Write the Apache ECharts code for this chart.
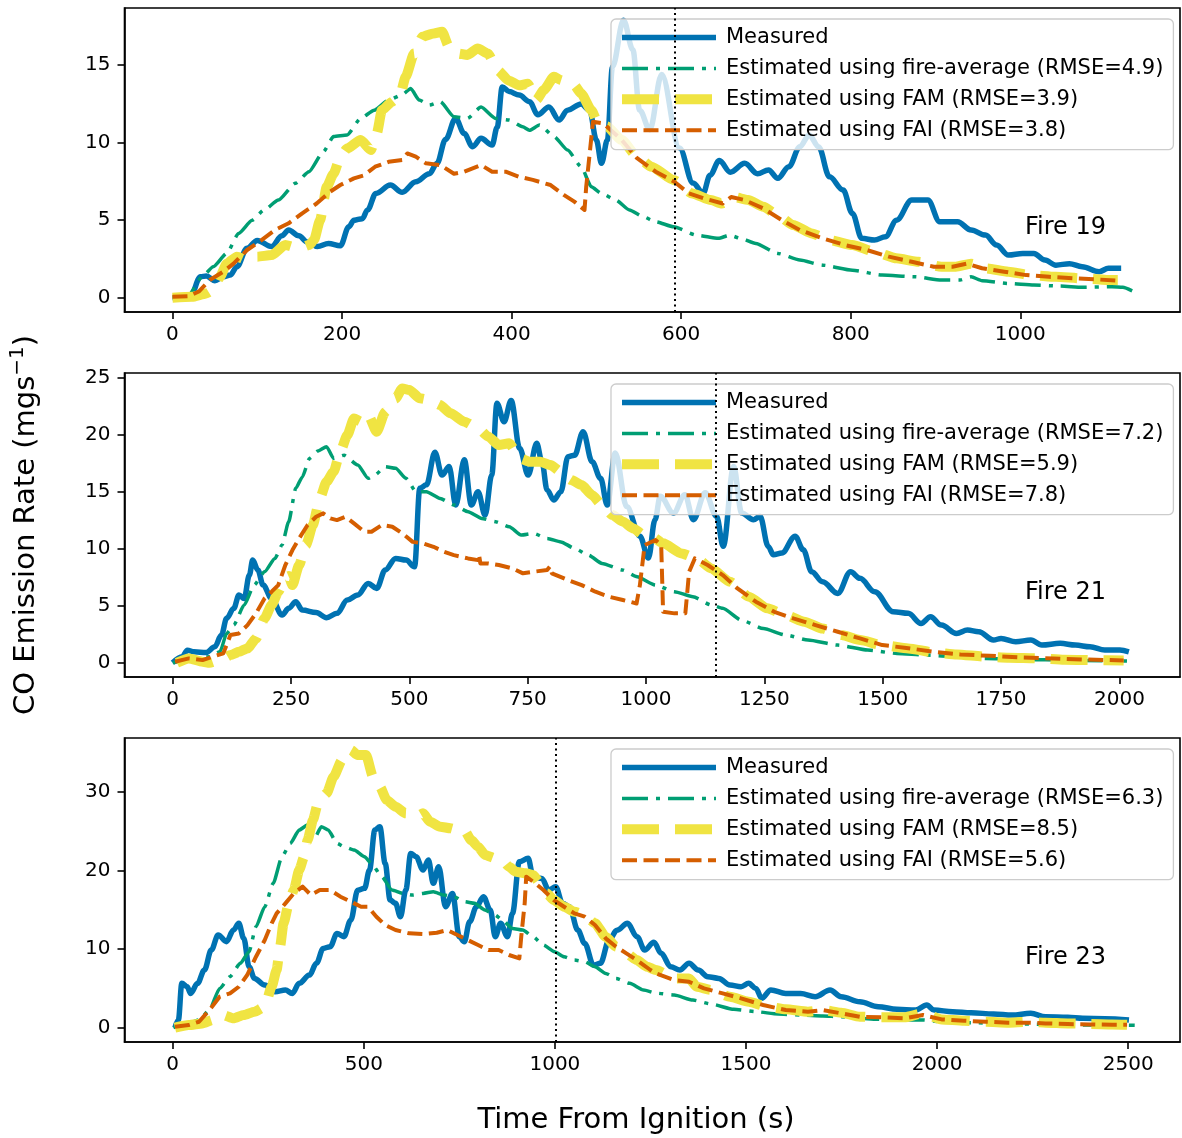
<!DOCTYPE html>
<html>
<head>
<meta charset="utf-8">
<script src="https://cdn.jsdelivr.net/npm/echarts@6/dist/echarts.min.js"></script>
<style>
  html, body { margin: 0; padding: 0; background: #fff; }
  #chart { width: 1182px; height: 1138px; }
</style>
</head>
<body>
<div id="chart"></div>
<script>
// ---------- Fire 19 ----------
const measured19 = [[0,0],[21,0.06],[33,1.35],[40,1.4],[50,1.1],[60,1.35],[68,1.46],[76,2.0],[88,3.2],[100,3.7],[117,3.3],[129,4.0],[137,4.37],[149,4.0],[159,3.6],[171,3.3],[184,3.5],[198,3.35],[208,4.58],[214,5.0],[224,5.1],[230,5.66],[240,6.73],[257,7.27],[271,6.8],[287,7.48],[303,8.0],[312,8.67],[322,10.2],[334,11.57],[344,10.6],[354,9.74],[364,10.28],[377,9.85],[383,11.0],[389,13.6],[397,13.3],[409,13.07],[421,12.65],[431,11.8],[444,12.3],[456,11.46],[466,12.1],[482,12.5],[492,12.1],[500,10.17],[506,8.67],[513,10.17],[519,14.9],[532,17.9],[543,16.0],[551,12.1],[563,10.84],[577,14.4],[598,9.66],[614,7.4],[626,6.75],[634,7.9],[645,8.85],[658,8.1],[675,8.67],[690,8.0],[703,8.24],[714,7.7],[727,8.45],[740,9.74],[751,10.5],[762,9.74],[775,7.8],[791,6.95],[802,5.44],[813,3.83],[828,3.72],[841,3.94],[854,5.0],[872,6.3],[891,6.3],[905,4.9],[926,4.9],[942,4.37],[959,4.04],[972,3.4],[986,2.75],[1003,2.86],[1016,2.86],[1029,2.43],[1042,2.1],[1058,2.2],[1073,2.0],[1093,1.68],[1104,1.9],[1119,1.9]];
const fireAvg19 = [[0,0],[19,0.17],[35,1.35],[48,2.0],[64,2.86],[78,4.15],[94,5.0],[108,5.66],[125,6.3],[145,7.38],[161,8.13],[178,9.42],[190,10.4],[206,10.5],[222,11.57],[238,12.1],[255,12.75],[271,13.1],[281,13.5],[291,12.75],[303,12.43],[316,12.65],[332,11.68],[348,11.57],[364,12.3],[381,11.57],[397,11.46],[413,11.03],[421,10.8],[433,11.14],[450,10.4],[466,9.53],[482,8.45],[494,7.16],[506,6.73],[523,6.3],[539,5.66],[555,5.23],[570,4.9],[591,4.58],[618,4.04],[644,3.83],[657,4.04],[670,3.83],[688,3.5],[714,2.86],[740,2.43],[767,2.1],[802,1.78],[837,1.46],[876,1.35],[907,1.14],[929,1.14],[942,1.35],[955,1.1],[986,0.92],[1016,0.82],[1047,0.75],[1073,0.67],[1108,0.71],[1121,0.67],[1134,0.39]];
const fam19 = [[0,0],[23,0.06],[40,0.28],[48,0.5],[56,1.35],[64,2.2],[76,2.65],[88,2.43],[100,2.65],[117,2.75],[133,3.4],[149,3.18],[161,3.4],[167,3.72],[174,5.0],[182,7.16],[190,8.0],[198,9.1],[206,9.63],[222,10.17],[234,9.53],[241,10.6],[247,12.1],[259,12.65],[269,13.18],[275,14.26],[285,15.76],[295,16.84],[308,17.05],[318,17.16],[326,16.2],[336,15.76],[348,15.66],[360,16.08],[372,15.76],[383,14.69],[397,14.0],[409,13.7],[419,13.8],[429,12.75],[438,13.4],[450,14.26],[458,14.04],[466,13.8],[474,13.7],[482,13.18],[494,12.1],[502,11.25],[512,11.06],[530,10.17],[548,9.1],[565,8.45],[591,7.6],[613,6.73],[635,6.3],[648,6.08],[662,6.5],[679,6.3],[697,5.87],[714,5.33],[732,4.69],[754,4.15],[775,3.72],[802,3.4],[828,2.97],[854,2.54],[880,2.32],[907,2.0],[924,2.0],[942,2.2],[959,1.9],[986,1.68],[1012,1.46],[1042,1.35],[1073,1.25],[1108,1.14],[1115,1.14]];
const fai19 = [[0,0.06],[19,0.1],[31,0.4],[44,1.14],[60,1.68],[72,2.2],[88,3.08],[105,3.72],[121,4.37],[137,4.8],[153,5.44],[170,6.08],[186,6.84],[198,7.27],[214,7.7],[226,7.9],[239,8.45],[255,8.77],[271,8.88],[277,9.31],[287,9.1],[299,8.67],[316,8.56],[332,8.0],[344,8.13],[364,8.56],[377,8.13],[393,8.13],[409,7.8],[425,7.6],[446,7.27],[462,6.62],[474,6.2],[486,5.66],[488,7.16],[496,11.35],[508,11.25],[530,10.17],[548,9.0],[570,8.13],[592,7.48],[609,6.73],[627,6.4],[649,6.08],[659,6.5],[675,6.3],[697,5.76],[719,5.0],[740,4.37],[767,3.83],[793,3.4],[819,3.08],[845,2.65],[872,2.32],[898,2.0],[920,2.0],[937,2.2],[955,1.9],[981,1.68],[1007,1.46],[1034,1.35],[1064,1.25],[1091,1.18],[1115,1.1]];
const rmse19 = ['4.9', '3.9', '3.8'];
const split19 = 593;
const xTicks19 = [0, 200, 400, 600, 800, 1000];
const yTicks19 = [0, 5, 10, 15];

// ---------- Fire 21 ----------
const measured21 = [[0,0],[20,0.53],[31,1.1],[45,0.96],[71,0.9],[89,1.4],[103,2.43],[114,3.9],[129,4.77],[140,5.94],[151,5.64],[162,7.69],[169,9.0],[180,8.13],[191,6.81],[209,5.64],[231,4.18],[245,4.77],[260,5.35],[274,4.62],[303,4.4],[325,3.95],[347,4.33],[369,5.5],[391,5.94],[413,6.96],[431,6.52],[449,8.13],[471,9.15],[493,9.0],[511,8.42],[522,15.3],[536,15.6],[554,18.45],[569,16.46],[584,17.2],[598,13.83],[616,17.8],[631,13.83],[645,15.0],[660,12.95],[674,16.46],[685,22.75],[700,21.14],[715,23.0],[733,18.8],[751,16.46],[769,19.24],[780,17.63],[791,15.15],[805,14.27],[820,15.0],[835,18.07],[849,18.2],[867,20.26],[886,17.63],[904,16.17],[918,13.83],[935,18.4],[959,13.7],[987,11.1],[1005,9.18],[1019,12.55],[1030,14.6],[1058,13.13],[1082,14.74],[1100,12.55],[1125,14.9],[1149,12.84],[1163,10.21],[1185,17.2],[1202,13.13],[1227,12.55],[1241,12.84],[1258,10.2],[1269,9.47],[1287,9.62],[1315,11.1],[1332,9.91],[1350,7.98],[1373,7.1],[1405,6.08],[1432,7.98],[1452,7.4],[1483,6.23],[1522,4.47],[1554,4.33],[1581,3.45],[1601,4.04],[1624,3.3],[1656,2.57],[1679,2.87],[1703,2.72],[1734,1.99],[1750,2.13],[1781,1.84],[1813,1.99],[1836,1.55],[1875,1.7],[1907,1.55],[1938,1.4],[1969,1.11],[2001,1.11],[2020,0.96]];
const fireAvg21 = [[0,0],[34,0.23],[78,0.53],[100,0.96],[114,2.57],[129,3.3],[151,5.06],[172,6.81],[194,7.98],[216,9.15],[231,10.32],[245,12.37],[260,15.3],[274,16.3],[289,17.92],[307,18.57],[325,18.95],[340,17.92],[362,18.2],[391,17.34],[413,16.17],[427,16.46],[449,17.2],[471,17.05],[493,16.17],[514,15.0],[536,15.0],[565,14.41],[594,13.83],[624,13.25],[653,12.66],[682,12.37],[711,11.93],[736,11.2],[762,11.35],[791,10.9],[820,10.6],[849,10.03],[878,9.44],[907,8.71],[950,8.13],[981,7.54],[1020,6.81],[1060,6.23],[1099,5.79],[1138,5.06],[1162,4.77],[1201,3.74],[1248,3.0],[1295,2.43],[1342,1.99],[1405,1.55],[1468,1.11],[1530,0.82],[1593,0.67],[1656,0.53],[1718,0.38],[1781,0.32],[1844,0.26],[1922,0.2],[2016,0.15]];
const fam21 = [[9,0],[34,0.38],[63,0.09],[78,0],[107,0.38],[122,0.67],[140,0.96],[158,1.26],[176,2.13],[194,3.9],[209,5.06],[223,6.23],[238,7.4],[245,7.6],[253,6.81],[267,8.57],[282,10.32],[296,12.08],[311,14.42],[325,15.88],[340,16.75],[354,18.5],[369,19.97],[383,21.43],[398,21.14],[413,21.73],[431,20.26],[449,22.0],[471,23.19],[485,24.06],[500,23.92],[522,23.19],[544,23.04],[565,22.6],[587,21.87],[616,21.14],[645,20.56],[667,19.82],[689,19.09],[711,19.24],[733,17.92],[755,17.63],[776,17.63],[798,17.34],[820,16.75],[842,16.02],[864,15.58],[886,14.7],[907,13.83],[929,12.95],[951,12.37],[973,11.78],[995,11.2],[1013,11.05],[1036,10.47],[1075,9.59],[1107,9.15],[1138,8.27],[1177,7.1],[1217,5.79],[1256,4.77],[1295,4.18],[1334,3.6],[1373,3.0],[1413,2.43],[1452,1.99],[1499,1.55],[1554,1.26],[1609,0.9],[1656,0.73],[1718,0.53],[1766,0.44],[1828,0.38],[1883,0.26],[1938,0.23],[2009,0.2]];
const fai21 = [[5,0.09],[34,0.38],[63,0.23],[85,0.53],[107,0.82],[122,2.43],[140,2.57],[158,3.3],[176,4.33],[194,5.64],[209,6.23],[223,6.81],[238,8.57],[253,9.88],[267,10.9],[285,12.08],[303,12.8],[318,13.1],[333,12.66],[347,12.51],[365,12.8],[383,12.22],[405,11.49],[420,11.49],[442,12.08],[464,11.93],[485,11.35],[507,10.6],[529,10.47],[551,10.17],[573,9.74],[594,9.44],[624,9.15],[645,9.0],[647,9.5],[650,8.71],[667,8.71],[689,8.57],[718,8.27],[740,7.84],[762,7.98],[791,8.13],[797,8.45],[801,7.84],[835,7.25],[864,6.81],[893,6.23],[922,5.79],[951,5.5],[980,5.2],[987,6.8],[997,10.32],[1020,10.76],[1032,10.32],[1036,4.47],[1060,4.33],[1083,4.33],[1091,7.98],[1103,9.15],[1130,8.57],[1162,7.69],[1193,6.52],[1232,5.35],[1271,4.47],[1311,3.89],[1358,3.3],[1405,2.72],[1452,2.13],[1499,1.55],[1546,1.32],[1609,0.96],[1664,0.73],[1726,0.61],[1789,0.47],[1860,0.38],[1922,0.29],[2009,0.2]];
const rmse21 = ['7.2', '5.9', '7.8'];
const split21 = 1147;
const xTicks21 = [0, 250, 500, 750, 1000, 1250, 1500, 1750, 2000];
const yTicks21 = [0, 5, 10, 15, 20, 25];

// ---------- Fire 23 ----------
const measured23 = [[6,0],[15,0.98],[24,5.65],[38,5.22],[47,4.37],[65,5.65],[83,7.35],[101,9.89],[119,11.8],[141,10.96],[159,12.44],[173,13.29],[186,11.38],[200,7.77],[214,6.28],[241,5.44],[268,4.59],[295,4.8],[313,4.37],[331,5.65],[358,6.71],[376,8.2],[394,10.1],[412,10.32],[430,12.0],[448,11.6],[466,13.7],[484,17.5],[502,17.75],[515,20.08],[529,25.18],[542,25.6],[556,20.93],[569,16.26],[583,15.84],[596,14.14],[610,17.54],[623,22.2],[637,21.78],[655,20.08],[669,21.36],[682,18.39],[696,20.5],[714,15.41],[732,17.1],[750,11.59],[763,10.96],[777,13.5],[795,15.41],[813,16.69],[831,14.99],[844,11.6],[858,13.29],[876,11.6],[889,14.56],[907,21.15],[930,21.57],[943,19.24],[966,19.02],[984,17.54],[1002,17.96],[1020,15.84],[1038,15.41],[1060,12.44],[1078,10.74],[1101,7.98],[1119,8.2],[1142,11.17],[1162,12.4],[1190,13.29],[1215,11.59],[1235,9.89],[1259,10.9],[1278,9.47],[1303,7.77],[1327,7.35],[1351,8.2],[1375,7.35],[1400,6.5],[1429,6.28],[1458,5.44],[1487,5.22],[1507,5.65],[1526,5.01],[1541,3.74],[1565,4.8],[1604,4.37],[1643,4.37],[1681,3.95],[1720,4.8],[1749,3.95],[1798,3.31],[1846,2.68],[1895,2.34],[1944,2.25],[1973,2.89],[1992,2.25],[2041,2.04],[2089,1.91],[2148,1.74],[2196,1.61],[2245,1.83],[2284,1.4],[2342,1.32],[2381,1.19],[2439,1.15],[2502,0.98]];
const fireAvg23 = [[2,0],[42,0.55],[69,0.98],[96,2.25],[123,5.01],[150,6.5],[177,8.2],[200,9.68],[218,12.87],[241,15.41],[263,18.39],[286,21.78],[308,23.48],[331,25.18],[353,25.82],[371,24.12],[389,25.6],[407,25.18],[430,23.48],[448,23.06],[475,22.63],[502,21.78],[520,20.93],[547,19.24],[574,17.54],[601,17.11],[628,16.9],[655,17.11],[682,17.32],[709,16.9],[736,16.69],[763,16.05],[790,15.84],[817,14.99],[844,14.35],[862,13.72],[889,12.65],[916,12.44],[943,11.59],[970,10.53],[999,9.68],[1024,9.04],[1051,8.62],[1078,8.41],[1105,7.77],[1133,6.92],[1160,6.28],[1196,5.65],[1232,4.8],[1265,4.4],[1312,4.16],[1361,3.52],[1409,3.01],[1468,2.34],[1526,2.04],[1584,1.74],[1643,1.61],[1701,1.49],[1749,1.4],[1798,1.19],[1856,1.06],[1914,0.98],[1963,0.98],[2012,0.76],[2089,0.64],[2167,0.55],[2245,0.47],[2322,0.38],[2400,0.34],[2478,0.34],[2517,0.3]];
const fam23 = [[6,0],[42,0.34],[78,0.55],[105,0.98],[132,1.61],[159,1.19],[186,1.61],[214,2.04],[241,2.68],[259,5.22],[272,7.35],[281,10.32],[290,13.29],[304,15.84],[317,17.54],[331,20.08],[344,21.78],[353,23.9],[367,26.45],[380,28.58],[403,29.85],[421,31.97],[443,34.1],[466,35.37],[484,34.73],[506,34.73],[524,31.97],[542,30.7],[560,29.0],[583,28.15],[610,27.3],[637,26.88],[655,27.3],[673,26.24],[700,25.6],[727,25.4],[745,25.18],[763,25.18],[781,23.9],[799,23.06],[817,22.0],[844,21.57],[862,21.36],[880,20.5],[898,19.87],[925,19.66],[943,19.45],[961,18.39],[979,17.11],[997,16.26],[1024,15.41],[1051,14.78],[1078,14.35],[1105,13.29],[1133,11.59],[1160,10.32],[1187,9.47],[1214,8.62],[1241,7.77],[1264,7.35],[1312,6.28],[1351,6.28],[1371,5.22],[1409,4.8],[1458,3.95],[1507,3.31],[1555,2.68],[1604,2.34],[1662,2.04],[1701,2.25],[1749,1.91],[1798,1.4],[1856,1.32],[1914,1.32],[1963,1.83],[2012,1.06],[2070,0.89],[2128,0.76],[2186,0.64],[2235,0.76],[2284,0.64],[2342,0.55],[2400,0.47],[2458,0.42],[2497,0.38]];
const fai23 = [[6,0.13],[42,0.34],[69,0.76],[96,2.25],[123,3.95],[150,4.37],[173,5.22],[195,6.71],[218,9.04],[241,11.17],[259,13.29],[272,14.56],[295,15.84],[317,17.11],[340,17.96],[362,16.9],[385,17.54],[412,17.54],[439,16.69],[466,16.05],[493,15.41],[511,15.41],[533,14.14],[556,13.08],[583,12.44],[619,12.02],[655,11.93],[691,12.1],[718,12.44],[745,11.8],[772,11.17],[799,10.53],[826,9.89],[853,9.89],[880,9.26],[907,8.83],[912,11.59],[921,15.84],[925,19.24],[943,18.6],[970,17.54],[997,16.26],[1024,15.41],[1051,14.56],[1078,14.14],[1105,13.08],[1133,11.38],[1160,10.32],[1187,9.47],[1214,8.62],[1250,7.35],[1264,6.92],[1312,6.07],[1351,5.86],[1390,5.01],[1439,4.37],[1487,3.74],[1545,2.89],[1604,2.25],[1662,2.04],[1701,2.25],[1749,1.83],[1798,1.4],[1856,1.32],[1914,1.19],[1963,1.61],[2012,1.06],[2070,0.89],[2128,0.76],[2186,0.64],[2235,0.64],[2284,0.55],[2342,0.47],[2400,0.42],[2458,0.38],[2497,0.38]];
const rmse23 = ['6.3', '8.5', '5.6'];
const split23 = 1002;
const xTicks23 = [0, 500, 1000, 1500, 2000, 2500];
const yTicks23 = [0, 10, 20, 30];

const fireNames = ['Fire 19', 'Fire 21', 'Fire 23'];

// ---------- drawing ----------
const FONT = 'DejaVu Sans';
const COLORS = { measured: '#0072B2', avg: '#009E73', fam: '#F0E442', fai: '#D55E00' };

// one panel per fire; axis ranges leave a 5% margin around the data extent
const panels = [
  { measured: measured19, avg: fireAvg19, fam: fam19, fai: fai19, rmse: rmse19, split: split19,
    xTicks: xTicks19, yTicks: yTicks19, xMin: -56.6, xMax: 1188.4, yMin: -0.92, yMax: 18.69, top: 8 },
  { measured: measured21, avg: fireAvg21, fam: fam21, fai: fai21, rmse: rmse21, split: split21,
    xTicks: xTicks21, yTicks: yTicks21, xMin: -101.8, xMax: 2128, yMin: -1.25, yMax: 25.41, top: 373 },
  { measured: measured23, avg: fireAvg23, fam: fam23, fai: fai23, rmse: rmse23, split: split23,
    xTicks: xTicks23, yTicks: yTicks23, xMin: -126, xMax: 2635.5, yMin: -1.82, yMax: 36.9, top: 738 }
];

const GRID_H = 304;
const plain = v => String(Math.round(v));
const grids = [], xAxes = [], yAxes = [], series = [], legends = [], graphics = [];

panels.forEach((p, i) => {
  grids.push({ left: 124.5, right: 2, top: p.top, height: GRID_H, show: true,
    containLabel: false, outerBoundsMode: 'none',
    borderColor: '#000', borderWidth: 1.6, backgroundColor: 'transparent' });

  const axisCommon = {
    axisLine: { show: true, onZero: false, lineStyle: { color: '#000', width: 1.6 } },
    splitLine: { show: false }
  };
  const tick = vals => ({ show: true, length: 7, customValues: vals, lineStyle: { color: '#000', width: 1.6 } });
  const label = (vals, margin) => ({ color: '#000', fontFamily: FONT, fontSize: 20, customValues: vals,
    margin, formatter: plain });

  xAxes.push(Object.assign({}, axisCommon, {
    type: 'value', gridIndex: i, min: p.xMin, max: p.xMax,
    axisTick: tick(p.xTicks), axisLabel: label(p.xTicks, 13)
  }));
  const yAx = Object.assign({}, axisCommon, {
    type: 'value', gridIndex: i, min: p.yMin, max: p.yMax,
    axisTick: tick(p.yTicks), axisLabel: label(p.yTicks, 14)
  });
  if (i === 1) {
    Object.assign(yAx, {
      name: 'CO Emission Rate (mgs{sup|−1})',
      nameLocation: 'middle', nameRotate: 90, nameGap: 79,
      nameTextStyle: { fontFamily: FONT, fontSize: 29, color: '#000', lineHeight: 38,
        rich: { sup: { fontFamily: FONT, fontSize: 20, color: '#000', verticalAlign: 'top', lineHeight: 20 } } }
    });
  }
  yAxes.push(yAx);

  const names = ['Measured',
    'Estimated using fire-average (RMSE=' + p.rmse[0] + ')',
    'Estimated using FAM (RMSE=' + p.rmse[1] + ')',
    'Estimated using FAI (RMSE=' + p.rmse[2] + ')'];

  const mk = (name, data, color, width, type, smooth) => ({
    type: 'line', name, data, xAxisIndex: i, yAxisIndex: i,
    symbol: 'none', showSymbol: false, smooth, smoothMonotone: 'x',
    lineStyle: { color, width, type, cap: 'butt', join: 'round' },
    itemStyle: { color }, animation: false, silent: true
  });
  series.push(mk(names[0], p.measured, COLORS.measured, 5.5, 'solid', 0.35));
  series.push(mk(names[1], p.avg, COLORS.avg, 3.5, [26, 8, 4, 8], 0.2));
  series.push(mk(names[2], p.fam, COLORS.fam, 10, [37, 16], 0.2));
  const faiSeries = mk(names[3], p.fai, COLORS.fai, 4, [15, 6.5], false);
  faiSeries.markLine = {
    silent: true, symbol: ['none', 'none'], label: { show: false },
    lineStyle: { color: '#000', width: 2, type: [2, 3.5], opacity: 1 },
    data: [{ xAxis: p.split }], animation: false
  };
  series.push(faiSeries);

  legends.push({
    data: names, orient: 'vertical', left: 611, top: p.top + 11,
    itemWidth: 94, itemHeight: 20, itemGap: 9.9,
    padding: [8, 10, 9, 6],
    backgroundColor: 'rgba(255,255,255,0.8)', borderColor: '#cccccc', borderWidth: 1.3, borderRadius: 5,
    selectedMode: false,
    lineStyle: { width: 'inherit' },
    itemStyle: { opacity: 0 },
    textStyle: { fontFamily: FONT, fontSize: 21, color: '#000', padding: [0, 0, 0, 5] }
  });

  graphics.push({ type: 'text', x: 1025, y: p.top + 220, silent: true,
    style: { text: fireNames[i], font: '24px "DejaVu Sans"', fill: '#000', verticalAlign: 'middle' } });
});

graphics.push({ type: 'text', x: 636, y: 1120, silent: true,
  style: { text: 'Time From Ignition (s)', font: '29px "DejaVu Sans"', fill: '#000', align: 'center', verticalAlign: 'middle' } });

const chart = echarts.init(document.getElementById('chart'), null, { renderer: 'canvas' });
chart.setOption({
  backgroundColor: '#fff',
  animation: false,
  grid: grids, xAxis: xAxes, yAxis: yAxes,
  legend: legends, series: series, graphic: graphics
});
</script>
</body>
</html>
